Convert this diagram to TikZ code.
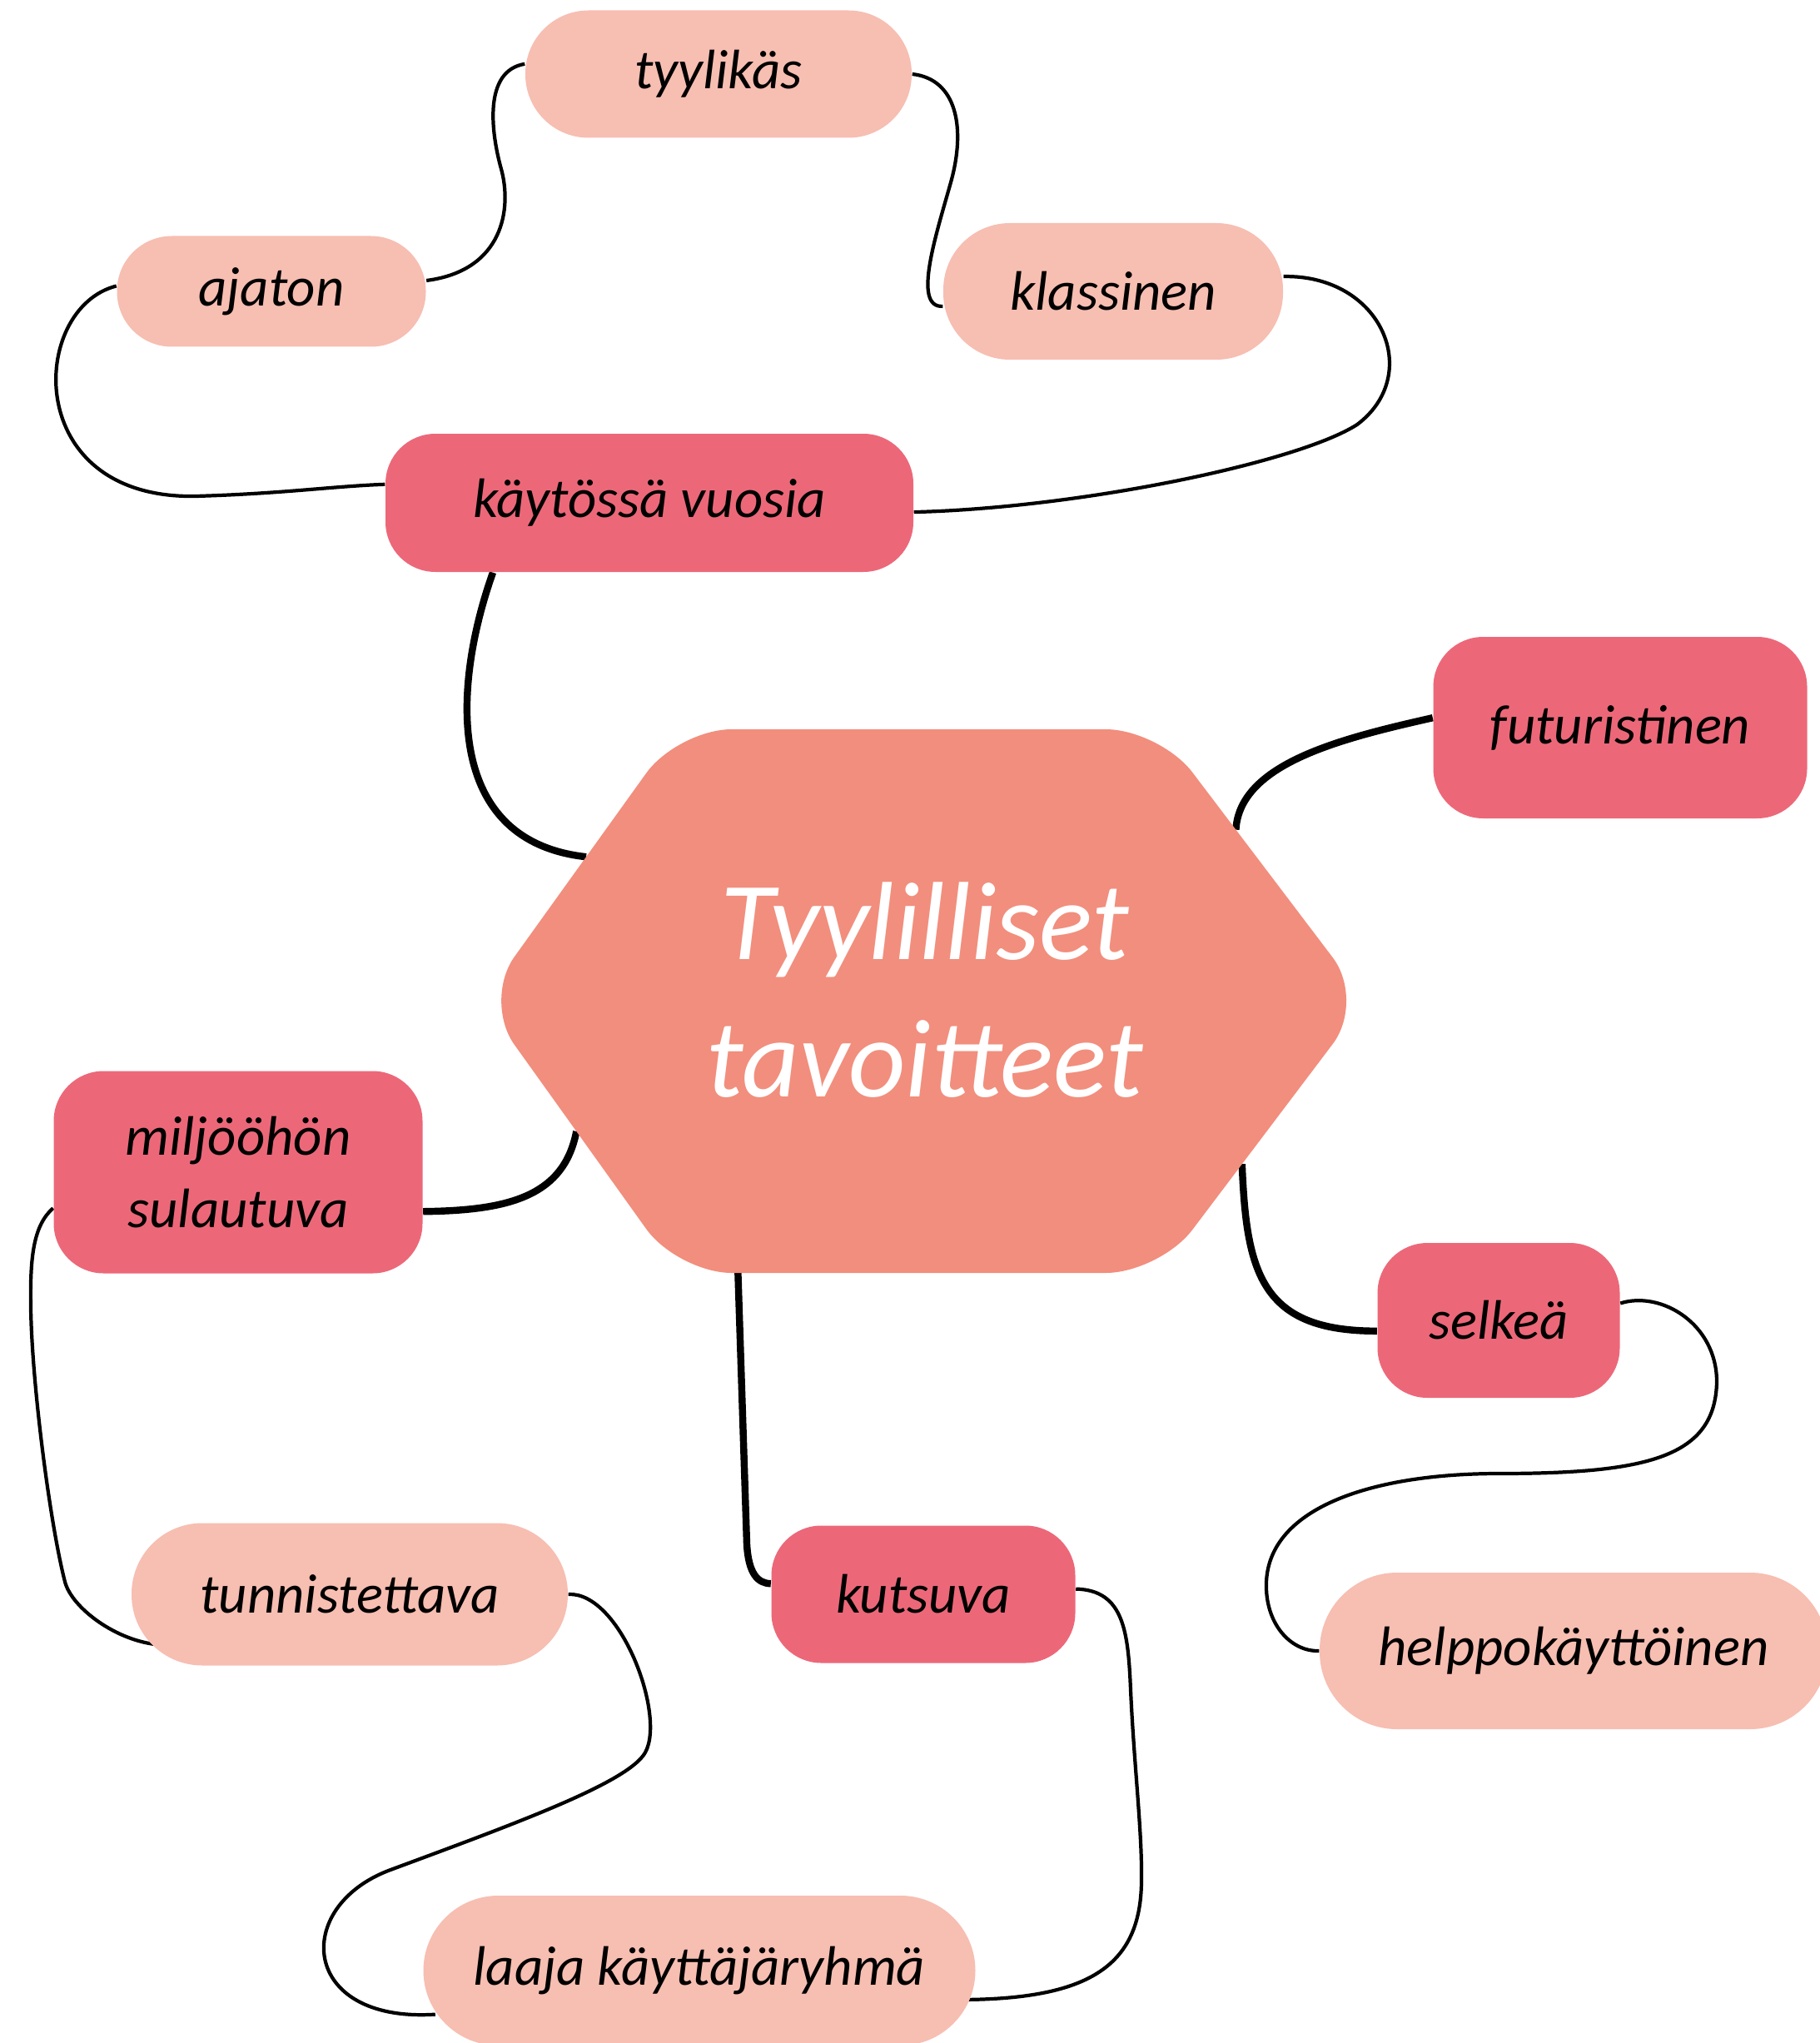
\documentclass[tikz,border=0pt]{standalone}
\usepackage{fontspec}
\setmainfont{Carlito}
\usetikzlibrary{calc,backgrounds}
\definecolor{hexfill}{HTML}{F28E7D}
\definecolor{darkpink}{HTML}{EC6879}
\definecolor{lightpink}{HTML}{F7BEB2}
\tikzset{
  darkbox/.style={rectangle,fill=darkpink,rounded corners=0.6cm,inner sep=0pt,align=center},
  lightbox/.style={rectangle,fill=lightpink,inner sep=0pt,align=center},
  mainlink/.style={line width=2.4pt},
  sublink/.style={line width=1.2pt}
}
\begin{document}
\begin{tikzpicture}[line join=round,line cap=round,font=\fontsize{19}{24.5}\selectfont\itshape]
\useasboundingbox (0,0) rectangle (21.86,-24.54);
% hexagon in the middle
\coordinate (hNW) at (8.14,-8.76);
\coordinate (hNE) at (13.93,-8.76);
\coordinate (hE) at (16.40,-12.02);
\coordinate (hSE) at (13.93,-15.29);
\coordinate (hSW) at (8.14,-15.29);
\coordinate (hW) at (5.80,-12.02);
\fill[hexfill,rounded corners=0.65cm] ($(hNW)!0.5!(hNE)$)--(hNE)--(hE)--(hSE)--(hSW)--(hW)--(hNW)--cycle;
\node[text=white,font=\fontsize{38}{47}\selectfont\itshape,align=center] (goal) at (11.11,-11.89) {Tyylilliset\\tavoitteet};

\node[lightbox,minimum width=4.64cm,minimum height=1.53cm,rounded corners=0.76cm] (tyylikas) at (8.63,-0.89) {tyylikäs};
\node[lightbox,minimum width=3.71cm,minimum height=1.33cm,rounded corners=0.66cm] (ajaton) at (3.26,-3.50) {ajaton};
\node[lightbox,minimum width=4.08cm,minimum height=1.64cm,rounded corners=0.8cm] (klassinen) at (13.37,-3.50) {klassinen};
\node[darkbox,minimum width=6.34cm,minimum height=1.66cm] (kaytossa) at (7.80,-6.04) {käytössä vuosia};
\node[darkbox,minimum width=4.49cm,minimum height=2.18cm] (futur) at (19.46,-8.74) {futuristinen};
\node[darkbox,minimum width=4.43cm,minimum height=2.43cm] (miljoo) at (2.86,-14.08) {miljööhön\\sulautuva};
\node[darkbox,minimum width=2.91cm,minimum height=1.86cm] (selkea) at (18.00,-15.86) {selkeä};
\node[darkbox,minimum width=3.65cm,minimum height=1.65cm] (kutsuva) at (11.09,-19.15) {kutsuva};
\node[lightbox,minimum width=5.24cm,minimum height=1.71cm,rounded corners=0.85cm] (tunnist) at (4.20,-19.15) {tunnistettava};
\node[lightbox,minimum width=6.10cm,minimum height=1.88cm,rounded corners=0.93cm] (helppo) at (18.90,-19.83) {helppokäyttöinen};
\node[lightbox,minimum width=6.63cm,minimum height=1.80cm,rounded corners=0.9cm] (laaja) at (8.40,-23.67) {laaja käyttäjäryhmä};

\begin{scope}[on background layer]
% thick links to the hexagon
\draw[mainlink] (kaytossa.204) .. controls (5.45,-8.2) and (5.3,-10.1) .. ($(hNW)!0.47!(hW)$);
\draw[mainlink] (futur.177) .. controls (16.11,-8.87) and (14.89,-9.17) .. ($(hNE)!0.37!(hE)$);
\draw[mainlink] (miljoo.348) .. controls (6.07,-14.54) and (6.77,-14.39) .. ($(hW)!0.48!(hSW)$);
\draw[mainlink] ($(hE)!0.6!(hSE)$) .. controls (14.97,-15.28) and (15.14,-15.99) .. (selkea.185);
\draw[mainlink] ($(hSW)!0.125!(hSE)$) -- (8.97,-18.55) .. controls (8.99,-18.9) and (9.1,-19.02) .. (kutsuva.176);
% thin links
\draw[sublink] (ajaton.4) .. controls (6.05,-3.25) and (6.15,-2.5) .. (6.02,-2.03)
  .. controls (5.9,-1.6) and (5.8,-0.85) .. (tyylikas.177);
\draw[sublink] (tyylikas.east) .. controls (11.5,-0.95) and (11.6,-1.55) .. (11.42,-2.19)
  .. controls (11.25,-2.8) and (10.95,-3.7) .. (klassinen.185);
\draw[sublink] (ajaton.178) .. controls (0.35,-3.7) and (0.25,-6.0) .. (2.35,-5.96)
  .. controls (3.4,-5.93) and (4.0,-5.84) .. (kaytossa.176);
\draw[sublink] (klassinen.5) .. controls (16.6,-3.3) and (17.1,-4.5) .. (16.3,-5.1)
  .. controls (15.6,-5.55) and (13.0,-6.1) .. (kaytossa.358);
\draw[sublink] (miljoo.191) .. controls (0.40,-14.72) and (0.36,-15.1) .. (0.37,-15.7)
  .. controls (0.38,-16.6) and (0.6,-18.3) .. (0.78,-19.0)
  .. controls (0.86,-19.31) and (1.4,-19.72) .. ([xshift=3.5mm]tunnist.193);
\draw[sublink] (tunnist.east) .. controls (7.45,-19.12) and (8.0,-20.6) .. (7.75,-21.05)
  .. controls (7.55,-21.41) and (6.2,-21.9) .. (4.69,-22.46)
  .. controls (3.5,-22.9) and (3.6,-24.3) .. ([xshift=1.5mm]laaja.189);
\draw[sublink] (kutsuva.2) .. controls (13.5,-19.1) and (13.55,-19.6) .. (13.58,-20.3)
  .. controls (13.62,-21.2) and (13.72,-22.0) .. (13.71,-22.6)
  .. controls (13.7,-23.6) and (13.1,-24.0) .. ([xshift=-1mm]laaja.354);
\draw[sublink] (selkea.8) .. controls (19.95,-15.5) and (20.62,-15.9) .. (20.62,-16.6)
  .. controls (20.6,-17.5) and (19.8,-17.7) .. (18.0,-17.7)
  .. controls (16.5,-17.7) and (15.25,-18.1) .. (15.21,-19.0)
  .. controls (15.19,-19.5) and (15.5,-19.84) .. (helppo.west);
\end{scope}
\end{tikzpicture}
\end{document}
